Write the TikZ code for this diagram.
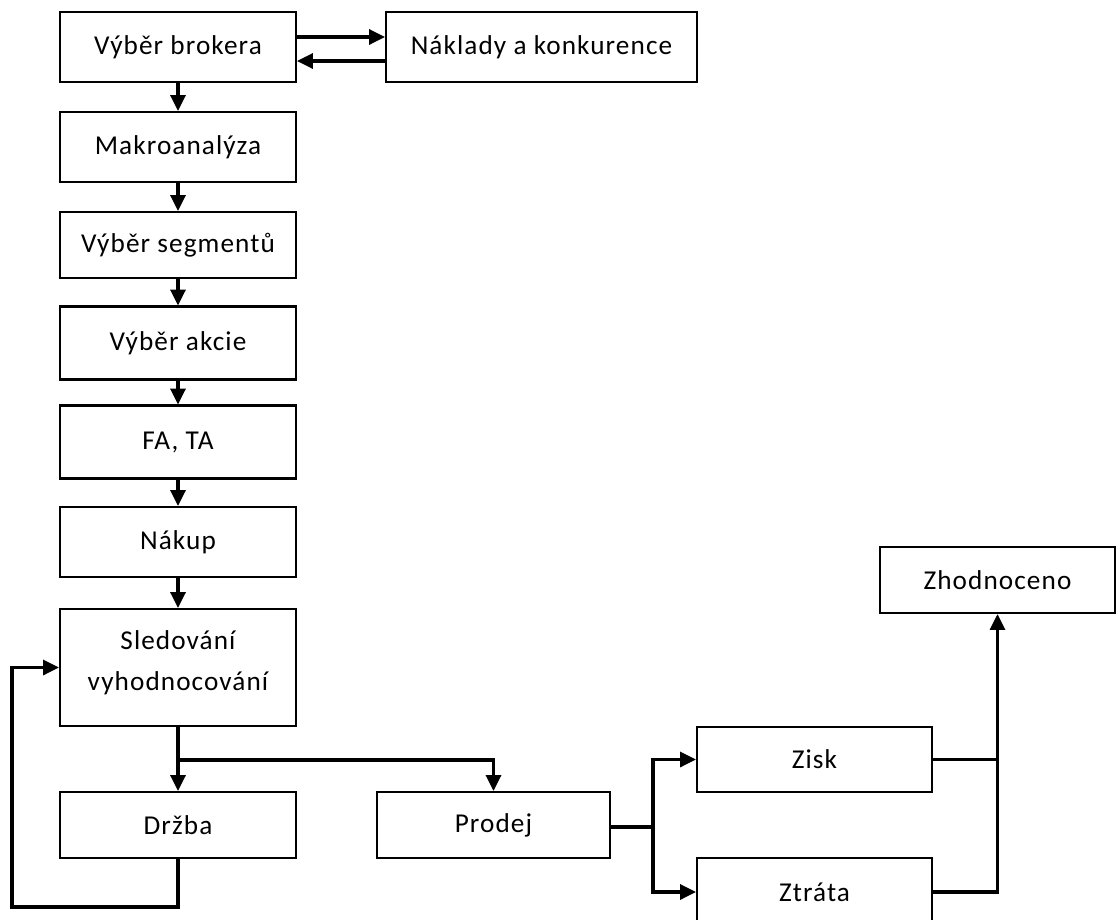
\documentclass[tikz,border=0pt]{standalone}
\usepackage{fontspec}
\setmainfont[LetterSpace=4]{Carlito}
\usetikzlibrary{arrows.meta}
\begin{document}
\begin{tikzpicture}[x=0.02cm,y=-0.02cm,>={Triangle[length=9pt,width=8.5pt]},
        krok/.style={draw,line width=1.2pt,minimum width=4.72cm,minimum height=1.4cm,inner sep=0pt,
                font=\fontsize{15.5}{23}\selectfont,align=center},
        spoj/.style={line width=1.8pt}]
                \useasboundingbox (0,0) rectangle (1117,920);
                % levy sloupec
                \node[krok] (brk) at (178,47) {Výběr brokera};
                \node[krok,minimum width=6.22cm] (nakl) at (541.5,47) {Náklady a konkurence};
                \node[krok] (makro) at (178,147) {Makroanalýza};
                \node[krok,minimum height=1.32cm] (segm) at (178,245) {Výběr segmentů};
                \node[krok,minimum height=1.46cm] (akcie) at (178,343) {Výběr akcie};
                \node[krok,minimum height=1.46cm] (fata) at (178,442) {FA, TA};
                \node[krok] (nakup) at (178,542) {Nákup};
                \node[krok,minimum height=2.34cm] (sled) at (178,667.5) {Sledování\\vyhodnocování\\[-15pt]};
                \node[krok,minimum height=1.32cm] (drzba) at (178,825) {Držba};
                % prava cast
                \node[krok,minimum width=4.66cm,minimum height=1.32cm] (prodej) at (493.5,825) {Prodej};
                \node[krok,minimum width=4.7cm,minimum height=1.3cm] (zisk) at (814.5,759.5) {Zisk};
                \node[krok,minimum width=4.7cm,minimum height=1.36cm] (ztrata) at (814.5,892) {Ztráta};
                \node[krok,minimum width=4.7cm,minimum height=1.32cm] (zhodn) at (997.5,580) {Zhodnoceno};
                \coordinate (split) at (178,760);
                \coordinate (loopb) at (12,907);
                \coordinate (fork) at (653,827);
                \draw[spoj,->] (brk.east |- 0,37) -- (nakl.west |- 0,37);
                \draw[spoj,->] (nakl.west |- 0,61) -- (brk.east |- 0,61);
                \foreach \a/\b in {brk/makro,makro/segm,segm/akcie,akcie/fata,fata/nakup,nakup/sled}
                        \draw[spoj,->] (\a) -- (\b);
                \draw[spoj] (sled) -- (split);
                \draw[spoj,->] (split) -- (drzba);
                \draw[spoj,->] (split) -| (prodej);
                % smycka zpet
                \draw[spoj,->] (drzba.south) |- (loopb) |- (sled.west);
                \draw[spoj] (prodej.east |- fork) -- (fork);
                \draw[spoj,->] (fork) |- (zisk.west);
                \draw[spoj,->] (fork) |- (ztrata.west);
                \draw[spoj] (zisk.east) -- (zisk.east -| zhodn.south);
                \draw[spoj,->] (ztrata.east) -| (zhodn.south);
\end{tikzpicture}
\end{document}
